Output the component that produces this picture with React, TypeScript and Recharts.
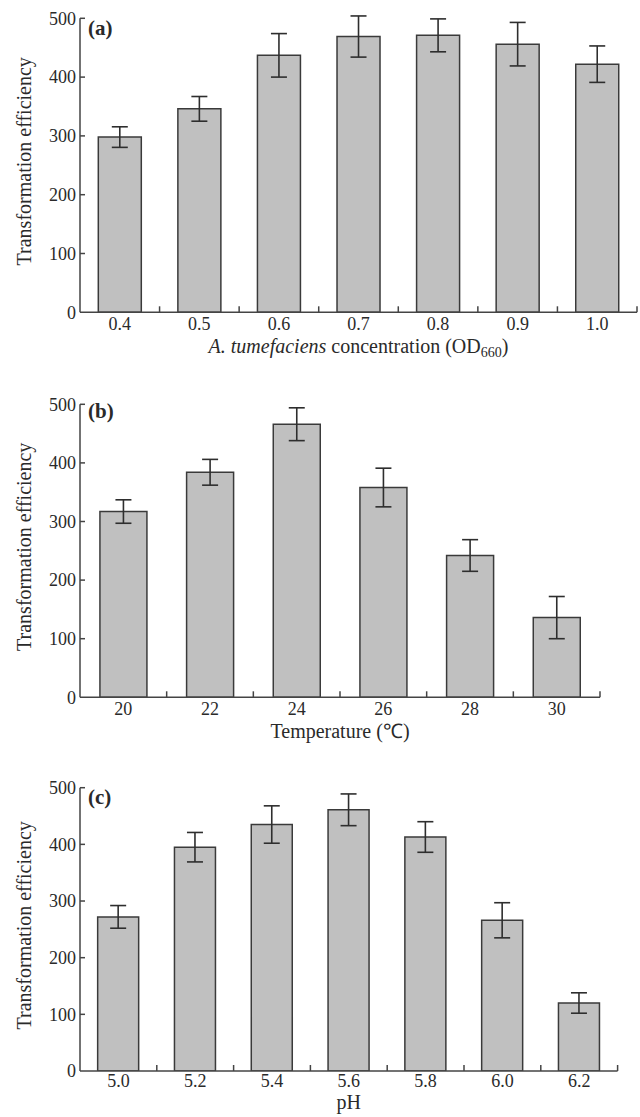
import React from 'react';
import { BarChart, Bar, XAxis, YAxis, ErrorBar } from 'recharts';

const FONT = '"Liberation Serif", "Times New Roman", serif';
const INK = '#2a2a2a';
const AXIS = '#444444';

// Panel (a): A. tumefaciens concentration
const concCats = ['0.4', '0.5', '0.6', '0.7', '0.8', '0.9', '1.0'];
const concValues = [298, 346, 437, 469, 471, 456, 422];
const concErrors = [17.5, 21, 37, 35, 28, 37, 31];

// Panel (b): Temperature
const tempCats = ['20', '22', '24', '26', '28', '30'];
const tempValues = [317, 384, 466, 358, 242, 136];
const tempErrors = [20, 22, 28, 33, 27, 36];

// Panel (c): pH
const phCats = ['5.0', '5.2', '5.4', '5.6', '5.8', '6.0', '6.2'];
const phValues = [272, 395, 435, 461, 413, 266, 120];
const phErrors = [20, 26, 33, 28, 27, 31, 18];

const yTicks = [0, 100, 200, 300, 400, 500];

function build(cats: string[], vals: number[], errs: number[]) {
  return cats.map((c, i) => ({ cat: c, value: vals[i], err: errs[i] }));
}

type PanelProps = {
  top: number;
  height: number;
  marginTop: number;
  marginRight: number;
  plotH: number;
  data: { cat: string; value: number; err: number }[];
  tag: string;
  tagDy: number;
  tickDy: number;
  titleDy: number;
  title: React.ReactNode;
};

const W = 640;
const YW = 80;

function Panel(p: PanelProps) {
  const plotW = W - YW - p.marginRight;
  const bw = plotW / p.data.length;
  const axisY = p.marginTop + p.plotH;
  const xh = p.height - p.marginTop - p.plotH;

  const XTick = (tp: any) => {
    const { x, y, payload } = tp;
    return (
      <g>
        <text x={x} y={y + p.tickDy} textAnchor="middle" fontSize={18} fontFamily={FONT} fill={INK}>
          {payload.value}
        </text>
        <line x1={x + bw / 2} x2={x + bw / 2} y1={y - 6} y2={y} stroke={AXIS} strokeWidth={1.5} />
      </g>
    );
  };

  const YTick = (tp: any) => {
    const { x, y, payload } = tp;
    return (
      <g>
        <text x={x - 4} y={y} dy="0.35em" textAnchor="end" fontSize={18} fontFamily={FONT} fill={INK}>
          {payload.value}
        </text>
        {payload.value !== 0 && (
          <line x1={x} x2={x + 5} y1={y} y2={y} stroke={AXIS} strokeWidth={1.5} />
        )}
      </g>
    );
  };

  const yLabel = () => {
    const cy = p.marginTop + p.plotH / 2 - 4;
    return (
      <g>
        <text
          x={31}
          y={cy}
          transform={`rotate(-90, 31, ${cy})`}
          textAnchor="middle"
          fontSize={20}
          fontFamily={FONT}
          fill={INK}
        >
          Transformation efficiency
        </text>
        <text x={YW + 8} y={p.marginTop + p.tagDy} fontSize={21} fontWeight="bold" fontFamily={FONT} fill={INK}>
          {p.tag}
        </text>
      </g>
    );
  };

  const xLabel = () => (
    <text
      x={YW + plotW / 2}
      y={axisY + p.titleDy}
      textAnchor="middle"
      fontSize={20}
      fontFamily={FONT}
      fill={INK}
    >
      {p.title}
    </text>
  );

  return (
    <div style={{ position: 'absolute', left: 0, top: p.top, width: W, height: p.height }}>
      <BarChart
        width={W}
        height={p.height}
        data={p.data}
        margin={{ top: p.marginTop, right: p.marginRight, left: 0, bottom: 0 }}
        barCategoryGap="23%"
      >
        <XAxis
          dataKey="cat"
          interval={0}
          tickLine={false}
          tickSize={0}
          tickMargin={0}
          height={xh}
          axisLine={{ stroke: AXIS, strokeWidth: 1.5 }}
          tick={XTick}
          label={{ content: xLabel }}
        />
        <YAxis
          width={YW}
          domain={[0, 500]}
          ticks={yTicks}
          allowDataOverflow
          tickLine={false}
          tickSize={0}
          tickMargin={0}
          axisLine={{ stroke: AXIS, strokeWidth: 1.5 }}
          tick={YTick}
          label={{ content: yLabel }}
        />
        <Bar dataKey="value" fill="#c0c0c0" stroke="#3a3a3a" strokeWidth={1.5} isAnimationActive={false}>
          <ErrorBar dataKey="err" width={8} stroke="#2e2e2e" strokeWidth={1.6} isAnimationActive={false} />
        </Bar>
      </BarChart>
    </div>
  );
}

export default function App() {
  return (
    <div style={{ position: 'absolute', left: 0, top: 0, width: 640, height: 1117, background: '#fff' }}>
      <Panel
        top={0}
        height={365}
        marginTop={18.3}
        marginRight={3}
        plotH={294}
        data={build(concCats, concValues, concErrors)}
        tag="(a)"
        tagDy={17}
        tickDy={18}
        titleDy={41}
        title={
          <>
            <tspan fontStyle="italic">A. tumefaciens</tspan>
            <tspan> concentration (OD</tspan>
            <tspan fontSize={14} dy={4}>660</tspan>
            <tspan dy={-4}>)</tspan>
          </>
        }
      />
      <Panel
        top={380}
        height={372}
        marginTop={24.3}
        marginRight={40}
        plotH={293}
        data={build(tempCats, tempValues, tempErrors)}
        tag="(b)"
        tagDy={14}
        tickDy={18}
        titleDy={41}
        title={'Temperature (\u2103)'}
      />
      <Panel
        top={760}
        height={357}
        marginTop={27.7}
        marginRight={22.4}
        plotH={283.3}
        data={build(phCats, phValues, phErrors)}
        tag="(c)"
        tagDy={16}
        tickDy={16}
        titleDy={38}
        title="pH"
      />
    </div>
  );
}
